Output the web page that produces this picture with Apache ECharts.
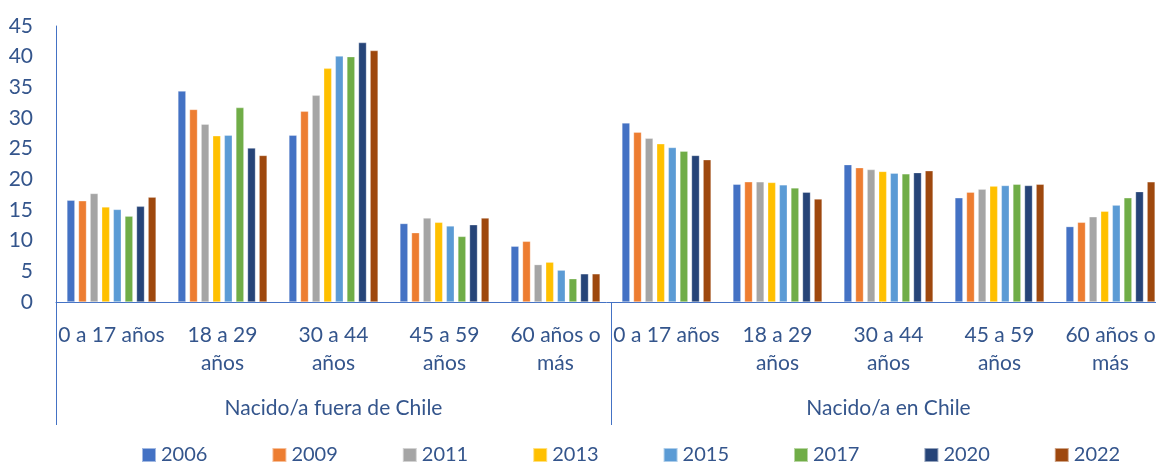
<!DOCTYPE html>
<html>
<head>
<meta charset="utf-8">
<script src="https://cdn.jsdelivr.net/npm/echarts@6/dist/echarts.min.js"></script>
<style>
  html, body { margin: 0; padding: 0; background: #fff; }
  #chart { width: 1156px; height: 464px; }
</style>
</head>
<body>
<div id="chart"></div>
<script>
// data
const ageGroups = ['0 a 17 años', '18 a 29\naños', '30 a 44\naños', '45 a 59\naños', '60 años o\nmás'];
const origins = ['Nacido/a fuera de Chile', 'Nacido/a en Chile'];
const years = ['2006', '2009', '2011', '2013', '2015', '2017', '2020', '2022'];

// each array: 5 age groups born abroad, then 5 born in Chile
const v2006 = [16.6, 34.4, 27.2, 12.8, 9.1, 29.2, 19.2, 22.4, 17.0, 12.3];
const v2009 = [16.5, 31.4, 31.1, 11.3, 9.9, 27.7, 19.6, 21.9, 17.9, 13.0];
const v2011 = [17.7, 29.0, 33.7, 13.7, 6.1, 26.7, 19.6, 21.6, 18.4, 13.9];
const v2013 = [15.5, 27.1, 38.1, 13.0, 6.5, 25.8, 19.5, 21.3, 18.9, 14.8];
const v2015 = [15.1, 27.2, 40.1, 12.4, 5.2, 25.2, 19.1, 21.0, 19.0, 15.8];
const v2017 = [14.0, 31.7, 40.0, 10.7, 3.8, 24.6, 18.6, 20.9, 19.2, 17.0];
const v2020 = [15.6, 25.1, 42.3, 12.6, 4.6, 23.9, 17.9, 21.1, 19.0, 18.0];
const v2022 = [17.1, 23.9, 41.0, 13.7, 4.6, 23.2, 16.8, 21.4, 19.2, 19.6];

const yTicks = { min: 0, max: 45, interval: 5 };

const allValues = [v2006, v2009, v2011, v2013, v2015, v2017, v2020, v2022];
const categories = origins.flatMap(() => ageGroups);

const colors = ['#4472C4', '#ED7D31', '#A5A5A5', '#FFC000', '#5B9BD5', '#70AD47', '#264478', '#9E480E'];
const textColor = '#34558C';
const axisBlue = '#4472C4';
const fontFamily = 'Lato, "Open Sans", sans-serif';

const chart = echarts.init(document.getElementById('chart'));

const series = years.map((y, i) => ({
  name: y,
  type: 'bar',
  xAxisIndex: 0,
  barWidth: 8,
  barGap: '45%',
  itemStyle: { color: colors[i], borderColor: 'rgba(255,255,255,0.5)', borderWidth: 0.6 },
  data: allValues[i]
}));

const option = {
  color: colors,
  animation: false,
  textStyle: { fontFamily: fontFamily },
  // plot runs a little past the right edge, as in the original
  grid: { left: 56, right: -10, top: 26, bottom: 162, containLabel: false, outerBoundsMode: 'none' },
  legend: {
    data: years,
    left: 136,
    top: 440,
    icon: 'rect',
    itemWidth: 14,
    itemHeight: 14,
    itemGap: 64,
    textStyle: { color: textColor, fontSize: 20, fontFamily: fontFamily }
  },
  xAxis: [
    {
      type: 'category',
      data: categories,
      position: 'bottom',
      axisLine: { show: true, lineStyle: { color: axisBlue, width: 1 } },
      axisTick: { show: false },
      axisLabel: {
        interval: 0,
        color: textColor,
        fontSize: 21,
        lineHeight: 28,
        margin: 19,
        fontFamily: fontFamily
      }
    },
    {
      type: 'category',
      data: origins,
      position: 'bottom',
      axisLine: { show: false },
      axisTick: { show: true, length: 123, lineStyle: { color: axisBlue, width: 1 } },
      axisLabel: {
        interval: 0,
        color: textColor,
        fontSize: 21,
        margin: 96,
        fontFamily: fontFamily
      }
    }
  ],
  yAxis: {
    type: 'value',
    min: yTicks.min,
    max: yTicks.max,
    interval: yTicks.interval,
    splitLine: { show: false },
    axisLine: { show: true, lineStyle: { color: axisBlue, width: 1 } },
    axisTick: { show: false },
    axisLabel: { color: textColor, fontSize: 21, margin: 23, fontFamily: fontFamily }
  },
  series: series
};

chart.setOption(option);
</script>
</body>
</html>
